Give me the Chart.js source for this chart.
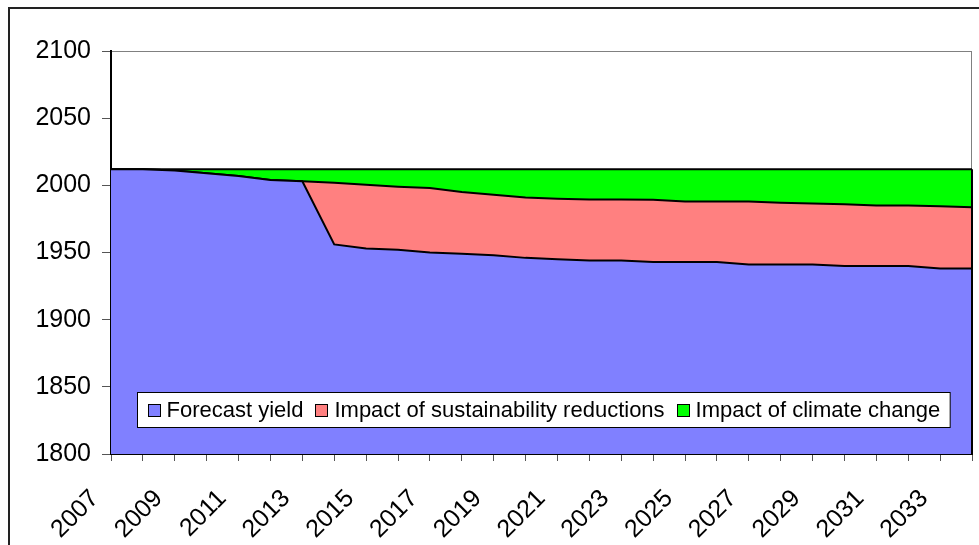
<!DOCTYPE html>
<html>
<head>
<meta charset="utf-8">
<script src="https://cdn.jsdelivr.net/npm/chart.js@4.4.1/dist/chart.umd.min.js"></script>
<style>
  html, body { margin: 0; padding: 0; background: #fff; }
  #wrap { width: 979px; height: 545px; position: relative; }
</style>
</head>
<body>
<div id="wrap"><canvas id="chart"></canvas></div>
<script>
// Years of the forecast horizon
const years = [2007, 2008, 2009, 2010, 2011, 2012, 2013, 2014, 2015, 2016, 2017, 2018, 2019, 2020,
               2021, 2022, 2023, 2024, 2025, 2026, 2027, 2028, 2029, 2030, 2031, 2032, 2033, 2034];

// Forecast yield (bottom layer of the stack)
const forecastYield = [2012, 2012, 2011, 2009, 2007, 2004, 2003, 1956, 1953, 1952, 1950, 1949, 1948, 1946,
                       1945, 1944, 1944, 1943, 1943, 1943, 1941, 1941, 1941, 1940, 1940, 1940, 1938, 1938];

// Yield lost to sustainability reductions (stacked on top of forecast yield)
const sustainabilityImpact = [0, 0, 0, 0, 0, 0, 0, 46, 47.5, 47, 48, 46, 45, 45,
                              45, 45.5, 45.5, 46.3, 45, 45, 47, 46, 45.5, 46, 45, 45, 46.5, 45.6];

// Yield lost to climate change (top layer of the stack)
const climateImpact = [0, 0, 1, 3, 5, 8, 9, 10, 11.5, 13, 14, 17, 19, 21,
                       22, 22.5, 22.5, 22.7, 24, 24, 24, 25, 25.5, 26, 27, 27, 27.5, 28.4];

// Value axis range
const yMin = 1800;
const yMax = 2100;
const yStep = 50;

const FONT = '"Liberation Sans", Arial, sans-serif';

// Outer frame, plot outline and the closing edge of the stacked areas
const framePlugin = {
  id: 'frame',
  beforeDraw(chart) {
    const { ctx, chartArea: a } = chart;
    ctx.save();
    ctx.fillStyle = '#fff';
    ctx.fillRect(0, 0, chart.width, chart.height);
    ctx.strokeStyle = '#222';
    ctx.lineWidth = 2;
    ctx.strokeRect(9, 8, chart.width + 10, chart.height + 10);
    ctx.strokeStyle = '#808080';
    ctx.lineWidth = 1;
    ctx.strokeRect(a.left + 0.5, a.top + 0.5, a.width - 1, a.height);
    ctx.restore();
  },
  afterDatasetsDraw(chart) {
    const { ctx, chartArea: a, scales } = chart;
    const last = years.length - 1;
    const total = forecastYield[last] + sustainabilityImpact[last] + climateImpact[last];
    const x = scales.x.getPixelForValue(last);
    ctx.save();
    ctx.strokeStyle = '#000';
    ctx.lineWidth = 2;
    ctx.beginPath();
    ctx.moveTo(x, scales.y.getPixelForValue(total));
    ctx.lineTo(x, a.bottom);
    ctx.stroke();
    ctx.restore();
  }
};

// Boxed legend sitting inside the plot area, near its bottom
const boxLegendPlugin = {
  id: 'boxLegend',
  afterDatasetsDraw(chart) {
    const { ctx, chartArea: a } = chart;
    const items = chart.data.datasets.map(d => ({ text: d.label, color: d.backgroundColor }));
    ctx.save();
    ctx.font = '22px ' + FONT;
    const sw = 13, gapText = 6, gapItem = 12, pad = 10, h = 35;
    const widths = items.map(it => ctx.measureText(it.text).width);
    const w = pad * 2 + widths.reduce((s, v) => s + v, 0) +
              items.length * (sw + gapText) + (items.length - 1) * gapItem;
    const x0 = Math.round(a.left + 26) + 0.5;
    const y0 = Math.round(a.bottom - 27 - h) + 0.5;
    ctx.fillStyle = '#fff';
    ctx.fillRect(x0, y0, w, h);
    ctx.strokeStyle = '#000';
    ctx.lineWidth = 1;
    ctx.strokeRect(x0, y0, w, h);
    let x = x0 + pad;
    const cy = y0 + h / 2;
    items.forEach((it, i) => {
      ctx.fillStyle = it.color;
      ctx.fillRect(Math.round(x), Math.round(cy - sw / 2), sw, sw);
      ctx.strokeRect(Math.round(x) + 0.5, Math.round(cy - sw / 2) + 0.5, sw - 1, sw - 1);
      x += sw + gapText;
      ctx.fillStyle = '#000';
      ctx.textBaseline = 'middle';
      ctx.textAlign = 'left';
      ctx.fillText(it.text, x, cy + 1);
      x += widths[i] + gapItem;
    });
    ctx.restore();
  }
};

const areaStyle = (color) => ({
  backgroundColor: color,
  borderColor: '#000',
  borderWidth: 2,
  pointRadius: 0,
  pointHoverRadius: 0,
  tension: 0
});

new Chart(document.getElementById('chart'), {
  type: 'line',
  data: {
    labels: years,
    datasets: [
      { label: 'Forecast yield', data: forecastYield, fill: 'start', ...areaStyle('#8080FF') },
      { label: 'Impact of sustainability reductions', data: sustainabilityImpact, fill: '-1', ...areaStyle('#FF8080') },
      { label: 'Impact of climate change', data: climateImpact, fill: '-1', ...areaStyle('#00FF00') }
    ]
  },
  options: {
    responsive: true,
    maintainAspectRatio: false,
    devicePixelRatio: 1,
    animation: false,
    layout: { padding: { left: 9, top: 51, right: 7, bottom: 0 } },
    plugins: {
      legend: { display: false },
      tooltip: { enabled: false }
    },
    scales: {
      x: {
        type: 'category',
        offset: false,
        grid: { drawOnChartArea: false, drawTicks: true, tickLength: 7, color: '#555', offset: false },
        border: { display: true, color: '#000', width: 2 },
        ticks: {
          autoSkip: false,
          maxRotation: 45,
          minRotation: 45,
          padding: 23,
          labelOffset: -16,
          color: '#000',
          font: { family: FONT, size: 25 },
          callback: (v, i) => (i % 2 === 0 ? String(years[i]) : '')
        },
        afterFit(scale) {
          scale.height = 91;
          scale.paddingLeft = 0;
          scale.paddingRight = 0;
        }
      },
      y: {
        stacked: true,
        min: yMin,
        max: yMax,
        grid: { drawOnChartArea: false, drawTicks: true, tickLength: 9, color: '#555' },
        border: { display: true, color: '#000', width: 2 },
        ticks: {
          stepSize: yStep,
          padding: 11,
          color: '#000',
          font: { family: FONT, size: 25 },
          callback: (v) => String(v)
        },
        afterFit(scale) { scale.width = 102; }
      }
    }
  },
  plugins: [framePlugin, boxLegendPlugin]
});
</script>
</body>
</html>
